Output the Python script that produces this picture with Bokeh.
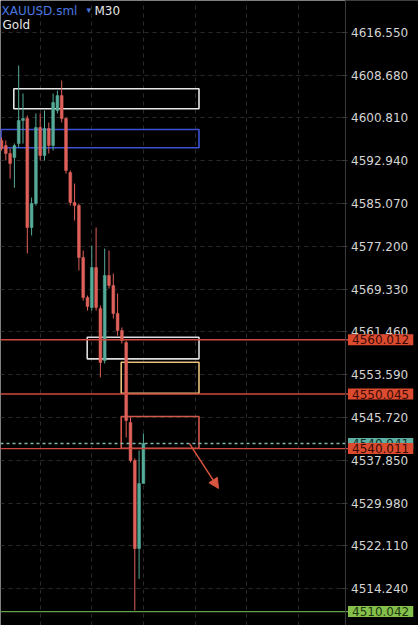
from bokeh.plotting import figure
from bokeh.models import (Range1d, FixedTicker, PrintfTickFormatter, Label,
                          Grid, ColumnDataSource, Arrow, NormalHead)
from bokeh.embed import file_html
from bokeh.resources import INLINE

# ---- data ----
bar_index = list(range(34))
opens = [4596.64, 4595.72, 4594.25, 4593.51, 4596.09, 4600.32, 4600.69, 4580.65, 4585.06, 4599.03,
         4593.88, 4598.85, 4595.72, 4602.16, 4604.91, 4600.69, 4590.76, 4585.24, 4584.69, 4575.13,
         4567.78, 4565.94, 4573.29, 4565.76, 4556.20, 4571.82, 4569.98, 4564.84, 4561.71, 4559.51,
         4544.80, 4537.82, 4521.64, 4533.59]
highs = [4597.19, 4596.64, 4595.17, 4596.09, 4610.43, 4605.28, 4601.24, 4586.16, 4601.61, 4601.61,
         4602.16, 4599.95, 4605.28, 4605.83, 4607.67, 4600.87, 4591.13, 4588.73, 4585.06, 4576.42,
         4568.15, 4577.33, 4580.65, 4566.31, 4576.79, 4576.42, 4572.19, 4568.52, 4562.27, 4559.87,
         4545.72, 4538.19, 4539.66, 4542.77]
lows = [4594.80, 4592.97, 4589.65, 4587.96, 4595.35, 4596.09, 4575.87, 4579.18, 4584.69, 4592.97,
        4592.97, 4594.25, 4594.80, 4601.61, 4599.95, 4590.57, 4584.69, 4581.93, 4572.74, 4567.23,
        4565.39, 4565.39, 4565.39, 4553.08, 4555.65, 4569.43, 4563.92, 4560.79, 4559.32, 4542.05,
        4537.45, 4510.25, 4516.07, 4533.59]
closes = [4595.17, 4594.25, 4592.41, 4595.72, 4600.32, 4600.69, 4580.65, 4585.06, 4599.03, 4593.88,
          4598.85, 4595.72, 4603.63, 4604.91, 4600.69, 4591.13, 4585.24, 4584.69, 4575.13, 4567.78,
          4566.12, 4573.29, 4565.94, 4555.83, 4571.82, 4569.98, 4564.84, 4561.71, 4559.87, 4545.17,
          4537.82, 4521.64, 4533.59, 4540.94]

price_ticks = [4514.240, 4522.110, 4529.980, 4537.850, 4545.720, 4553.590, 4561.460,
               4569.330, 4577.200, 4585.070, 4592.940, 4600.810, 4608.680, 4616.550]
time_grid_bars = [9, 21, 33, 45, 57, 69]

red_levels = [4560.012, 4550.045, 4540.011]
green_level = 4510.042
last_price = 4540.941

zone_left = [2.86, -0.12, 19.93, 27.84, 27.84]
zone_right = [45.93, 45.93, 45.93, 45.93, 45.93]
zone_top = [4606.15, 4598.66, 4560.48, 4555.89, 4545.90]
zone_bottom = [4602.47, 4595.30, 4556.51, 4550.19, 4540.08]
zone_colors = ["#e6e6e6", "#3b52d6", "#dcdcdc", "#e8c07c", "#d4564a"]

arrow_from = (43.72, 4540.94)
arrow_to = (50.47, 4532.68)

symbol = "XAUUSD.sml"
timeframe = "M30"
name = "Gold"

# ---- figure ----
UP = "#55aa98"
DOWN = "#df615a"
RED = "#cf4a3e"
FONT = "DejaVu Sans"
PX = 4.3                       # pixels per bar
X0 = -1 / PX                   # left edge of the frame in bar units
AXIS_X = 343.5 / PX            # price-scale line
TAG_X = 346.5 / PX             # price tags start
Y0, Y1 = 4507.49, 4622.38

p = figure(width=418, height=625, output_backend="svg", toolbar_location=None,
           x_range=Range1d(X0, 417 / PX), y_range=Range1d(Y0, Y1),
           x_axis_location=None, y_axis_location="right",
           background_fill_color="black", border_fill_color="black",
           min_border_left=0, min_border_top=0, min_border_bottom=0, min_border_right=0)
p.outline_line_color = None

ax = p.yaxis[0]
ax.fixed_location = AXIS_X
ax.ticker = FixedTicker(ticks=price_ticks)
ax.formatter = PrintfTickFormatter(format="%.3f")
ax.major_label_text_color = "#d4d4d4"
ax.major_label_text_font = FONT
ax.major_label_text_font_size = "12px"
ax.axis_line_color = "#3a3a3a"
ax.major_tick_line_color = "#3a3a3a"
ax.major_tick_in = 4
ax.major_tick_out = 2
ax.minor_tick_line_color = None
ax.major_label_standoff = 4

p.ygrid.grid_line_color = "#2a2a2a"
p.ygrid.grid_line_dash = "4 4"
p.xgrid.grid_line_color = None
xg = Grid(dimension=0, ticker=FixedTicker(ticks=time_grid_bars),
          grid_line_color="#2a2a2a", grid_line_dash="4 4")
p.add_layout(xg)

# price-scale area (hides the grid behind the labels)
p.quad(left=[AXIS_X], right=[417 / PX + 1], top=[Y1 + 1], bottom=[Y0 - 1],
       fill_color="black", line_color=None)

# zones
zsrc = ColumnDataSource(dict(left=zone_left, right=zone_right, top=zone_top,
                             bottom=zone_bottom, color=zone_colors))
p.quad(left="left", right="right", top="top", bottom="bottom", source=zsrc,
       fill_color=None, line_color="color", line_width=1.6)

# candles
colors = [UP if c >= o else DOWN for o, c in zip(opens, closes)]
src = ColumnDataSource(dict(x=bar_index, o=opens, h=highs, l=lows, c=closes,
                            top=[max(o, c) for o, c in zip(opens, closes)],
                            bot=[min(o, c) for o, c in zip(opens, closes)],
                            color=colors))
p.segment(x0="x", y0="h", x1="x", y1="l", source=src, line_color="color", line_width=1)
p.vbar(x="x", top="top", bottom="bot", width=0.66, source=src,
       fill_color="color", line_color="color", line_width=0.5)

# levels
n = len(red_levels)
p.segment(x0=[X0] * n, x1=[TAG_X] * n, y0=red_levels, y1=red_levels, line_color=RED, line_width=1.4)
p.segment(x0=[X0], x1=[TAG_X], y0=[green_level], y1=[green_level], line_color="#64a04c", line_width=1.4)
p.segment(x0=[X0], x1=[TAG_X], y0=[last_price], y1=[last_price], line_color="#86b8ad",
          line_width=1.5, line_dash="3 3")

# arrow
p.add_layout(Arrow(x_start=arrow_from[0], y_start=arrow_from[1], x_end=arrow_to[0], y_end=arrow_to[1],
                   line_color="#d8563f", line_width=1.5,
                   end=NormalHead(size=10, fill_color="#d8563f", line_color="#d8563f")))


# price tags on the axis
def tag(price, bg, fg):
    p.add_layout(Label(x=TAG_X, y=price, text="%.3f" % price, text_align="left",
                       text_baseline="middle", text_font=FONT, text_font_size="12px",
                       text_color=fg, background_fill_color=bg, padding=(4, 1)))


tag(last_price, "#5fb0a2", "#10302a")
for lv in red_levels:
    tag(lv, "#dc4b30", "#3a0b05")
tag(green_level, "#86c04c", "#1c3a0c")

# header
p.add_layout(Label(x=0, y=Y1, y_offset=-3, text=symbol, text_baseline="top",
                   text_font=FONT, text_font_size="12px", text_color="#4a78e0"))
p.add_layout(Label(x=85 / PX, y=Y1, y_offset=-4, text="\u25BE", text_baseline="top",
                   text_font=FONT, text_font_size="9px", text_color="#4a78e0"))
p.add_layout(Label(x=93 / PX, y=Y1, y_offset=-3, text=timeframe, text_baseline="top",
                   text_font=FONT, text_font_size="12px", text_color="#e6e6e6"))
p.add_layout(Label(x=1 / PX, y=Y1, y_offset=-17, text=name, text_baseline="top",
                   text_font=FONT, text_font_size="12px", text_color="#e6e6e6"))

open("out.html", "w").write(file_html(p, INLINE))
